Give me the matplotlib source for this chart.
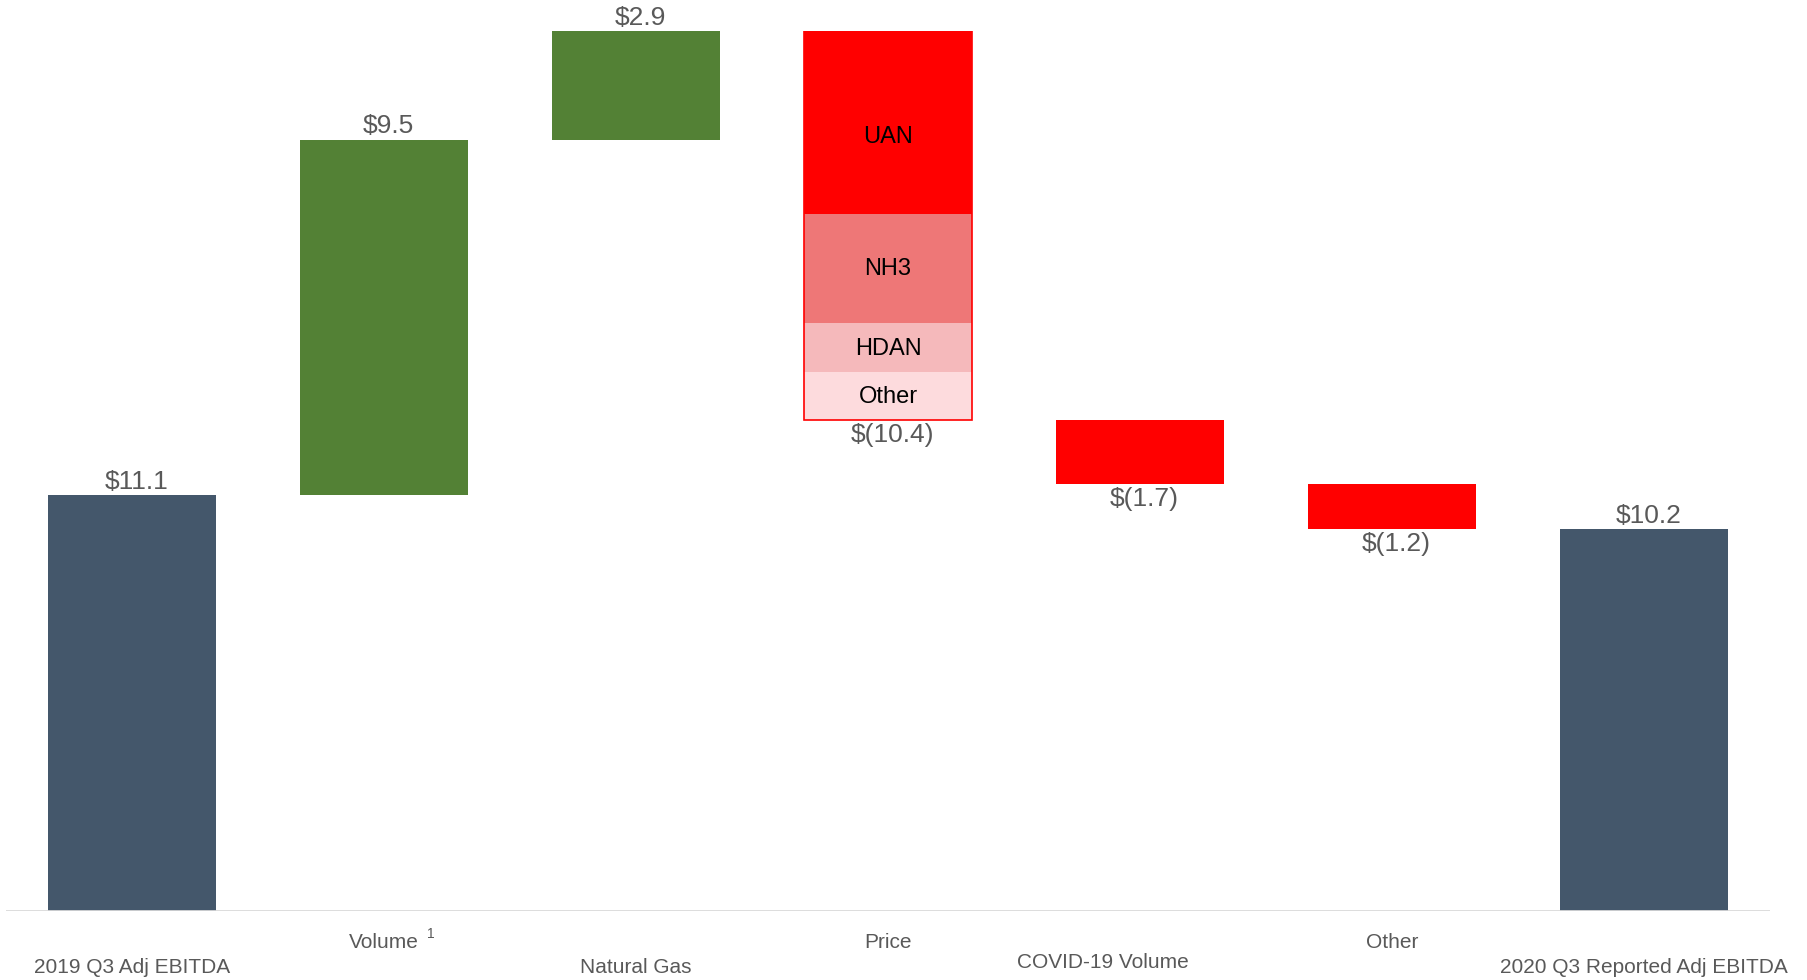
import numpy as np
import matplotlib.pyplot as plt
from matplotlib.transforms import blended_transform_factory, offset_copy

# Données
categories = ["2019 Q3 Adj EBITDA", "Volume", "Natural Gas", "Price",
              "COVID-19 Volume", "Other", "2020 Q3 Reported Adj EBITDA"]
values = [11.1, 9.5, 2.9, -10.4, -1.7, -1.2, 10.2]
value_labels = ["$11.1", "$9.5", "$2.9", "$(10.4)", "$(1.7)", "$(1.2)", "$10.2"]
price_parts = ["UAN", "NH3", "HDAN", "Other"]
price_part_values = [4.9, 2.9, 1.3, 1.3]

# Styles
c_total = "#44576b"
c_up = "#538135"
c_down = "#ff0000"
price_colors = ["#ff0000", "#ee7777", "#f5b9bb", "#fddbdd"]
part_label_dy = [-10, 0, -1, -1]  # décalage vertical des étiquettes (points)
grey = "#595959"
narrow = ["Liberation Sans Narrow", "Liberation Sans", "DejaVu Sans"]
plt.rcParams["font.family"] = ["Liberation Sans", "DejaVu Sans"]

fig = plt.figure(figsize=(18.08, 9.8), dpi=100)
ax = fig.add_axes([0.0033, 0.0704, 0.9757, 0.8980])

x = np.arange(len(categories))
width = 0.665

# Bases de la cascade
bottoms = []
tops = []
running = 0.0
for i, v in enumerate(values):
    if i == 0 or i == len(values) - 1:
        bottoms.append(0.0)
        tops.append(v)
        running = v
    else:
        start = running
        running = running + v
        bottoms.append(min(start, running))
        tops.append(max(start, running))

for i, v in enumerate(values):
    if i == 0 or i == len(values) - 1:
        color = c_total
    elif v > 0:
        color = c_up
    else:
        color = c_down
    if categories[i] == "Price":
        # barre empilée par produit, de haut en bas
        top = tops[i]
        for name, pv, pc, dy in zip(price_parts, price_part_values,
                                    price_colors, part_label_dy):
            ax.bar(x[i], pv, width, bottom=top - pv, color=pc, linewidth=0)
            ax.annotate(name, (x[i], top - pv / 2), xytext=(0, dy),
                        textcoords="offset points", ha="center", va="center",
                        fontsize=17, color="black")
            top -= pv
        ax.bar(x[i], tops[i] - bottoms[i], width, bottom=bottoms[i],
               fill=False, edgecolor=c_down, linewidth=1.2)
    else:
        ax.bar(x[i], tops[i] - bottoms[i], width, bottom=bottoms[i],
               color=color, linewidth=0)

    if v > 0:
        ax.annotate(value_labels[i], (x[i], tops[i]), xytext=(3, 1),
                    textcoords="offset points", ha="center", va="bottom",
                    fontsize=19, color=grey, family=narrow, annotation_clip=False)
    else:
        ax.annotate(value_labels[i], (x[i], bottoms[i]), xytext=(3, -2),
                    textcoords="offset points", ha="center", va="top",
                    fontsize=19, color=grey, family=narrow)

# Étiquettes des catégories (deux rangées)
label_rows = [56, 31, 56, 31, 51, 31, 56]
label_dx = [0, 0, 0, 0, -0.147, 0, 0]
trans = blended_transform_factory(ax.transData, ax.transAxes)
for i, name in enumerate(categories):
    t = offset_copy(trans, fig=fig, x=0, y=-label_rows[i], units="dots")
    ax.text(x[i] + label_dx[i], 0, name, transform=t, ha="center",
            va="center", fontsize=15, color=grey, family=narrow)
    if name == "Volume":
        t2 = offset_copy(trans, fig=fig, x=47, y=-label_rows[i] + 8, units="dots")
        ax.text(x[i], 0, "1", transform=t2, ha="center", va="center",
                fontsize=10, color=grey, family=narrow)

ax.set_xlim(-0.5, len(categories) - 0.5)
ax.set_ylim(0, 23.5)
ax.axhline(0, color="#d9d9d9", linewidth=2)
for s in ax.spines.values():
    s.set_visible(False)
ax.set_xticks([])
ax.set_yticks([])

plt.savefig("out.png", dpi=100)
